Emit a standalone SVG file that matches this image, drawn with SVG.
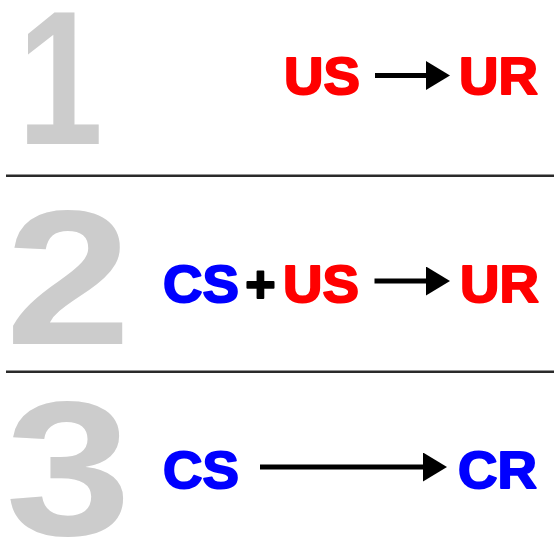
<svg xmlns="http://www.w3.org/2000/svg" width="554" height="539" viewBox="0 0 554 539">
<style>
.num{font-family:"Liberation Sans",Arial,sans-serif;font-weight:bold;font-size:192px;fill:#CCCCCC}
.t{font-family:"Liberation Sans",Arial,sans-serif;font-weight:bold;font-size:52px;stroke-width:2;stroke-linejoin:round}
.r{fill:#FF0000;stroke:#FF0000}
.b{fill:#0000FF;stroke:#0000FF}
.k{fill:#000000;stroke:#000000}
.sep{stroke:#2A2A2A;stroke-width:2.5}
.arr{stroke:#000000;stroke-width:5;fill:none}
</style>
<defs>
<marker id="ah" markerUnits="userSpaceOnUse" markerWidth="24" markerHeight="29" refX="0" refY="14.5" orient="auto">
<path d="M0,0 L24,14.5 L0,29 z" fill="#000000"/>
</marker>
</defs>
<rect width="554" height="539" fill="#FFFFFF"/>
<g id="separators">
<line class="sep" x1="6" y1="175.7" x2="554" y2="175.7"/>
<line class="sep" x1="6" y1="371.7" x2="554" y2="371.7"/>
</g>
<g id="step1">
<text class="num" transform="translate(17.6,144) scale(0.8,1)">1</text>
</g>
<g id="step2">
<text class="num" transform="translate(5.2,344) scale(1.18,1)">2</text>
</g>
<g id="step3">
<text class="num" transform="translate(5.2,535) scale(1.18,1)">3</text>
</g>
<g id="us1"><text class="t r" transform="translate(284,94) scale(1.05,1)">US</text></g>
<g id="ur1"><text class="t r" transform="translate(459,94) scale(1.05,1)">UR</text></g>
<g id="cs2"><text class="t b" transform="translate(163,302) scale(1.05,1)">CS</text></g>
<g id="plus2"><text class="t k" font-size="48" text-anchor="middle" transform="translate(260.5,302)">+</text></g>
<g id="us2"><text class="t r" transform="translate(283,302) scale(1.05,1)">US</text></g>
<g id="ur2"><text class="t r" transform="translate(460,302) scale(1.05,1)">UR</text></g>
<g id="cs3"><text class="t b" transform="translate(163,488) scale(1.05,1)">CS</text></g>
<g id="cr3"><text class="t b" transform="translate(458,488) scale(1.05,1)">CR</text></g>
<g id="connectors">
<line class="arr" x1="375" y1="75.5" x2="426" y2="75.5" marker-end="url(#ah)"/>
<line class="arr" x1="374.5" y1="281" x2="426" y2="281" marker-end="url(#ah)"/>
<line class="arr" x1="260" y1="467" x2="423" y2="467" marker-end="url(#ah)"/>
</g>
</svg>
